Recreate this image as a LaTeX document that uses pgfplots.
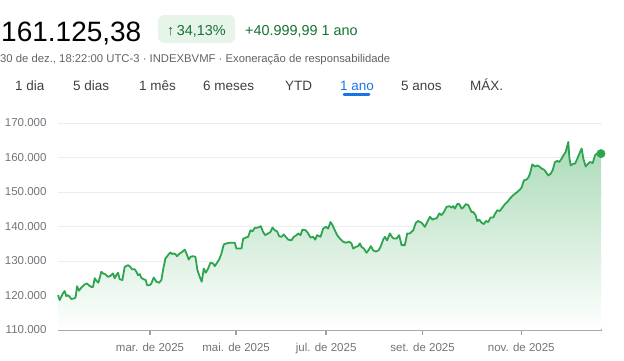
\documentclass[border=0pt]{standalone}
\usepackage{pgfplots}
\pgfplotsset{compat=1.18}
\usepackage{pgfplotstable}
\usepackage{fontspec}
\setmainfont{Liberation Sans}
\definecolor{gline}{HTML}{2DA44E}
\definecolor{gtext}{HTML}{137333}
\definecolor{gbadge}{HTML}{E6F4EA}
\definecolor{ttext}{HTML}{3C4043}
\definecolor{stext}{HTML}{5F6368}
\definecolor{ltext}{HTML}{70757A}
\definecolor{gblue}{HTML}{1A73E8}
\definecolor{gridc}{HTML}{ECEDEF}
\definecolor{axc}{HTML}{9AA0A6}
\pgfplotstableread{
x y
175 120100
180 118700
190 120600
195 121300
200 119800
205 120100
210 119600
215 119000
225 119200
228 119600
232 122700
238 121400
245 122300
255 123200
262 123500
268 122900
275 122500
280 122500
285 125000
290 124300
296 123700
305 126900
310 126400
318 126100
325 125400
332 125700
340 126400
345 125000
350 125900
355 126600
360 124700
368 124500
375 128300
385 128800
392 128300
397 127600
405 127600
410 126900
415 125900
420 126200
425 125100
432 124700
438 124500
442 123000
450 123000
455 123500
462 125200
470 124000
478 123700
485 124500
490 127400
497 130700
505 131700
512 132500
518 132000
522 132200
527 132000
532 131400
540 132200
548 132700
555 133300
560 132200
567 130400
572 131200
580 131400
587 131200
593 127400
600 125400
606 124000
612 127800
618 126600
625 127800
632 129500
640 129300
645 128500
652 129500
658 130400
665 132200
672 134800
680 135100
690 135300
705 135300
710 133600
725 133600
730 136400
738 136800
745 137000
752 138900
758 138600
765 139600
775 139700
783 140100
790 138400
796 137500
805 138000
812 138400
818 139700
825 138900
832 138600
838 137200
845 137000
852 137700
858 137000
865 136200
875 136000
882 137000
890 137500
895 138000
902 137500
908 139100
918 138900
925 138000
932 136800
940 137000
946 136200
952 137500
958 137200
962 137000
970 139400
978 139900
985 139400
992 141300
998 140400
1005 138900
1012 137500
1020 136500
1030 135600
1038 135300
1048 135600
1055 135100
1060 133600
1068 134100
1075 134300
1080 135100
1085 134100
1092 133600
1100 132400
1107 133300
1113 134300
1120 133100
1128 132700
1136 133100
1142 134100
1150 136200
1155 137000
1162 136000
1170 138000
1176 137000
1182 136500
1190 136500
1198 137500
1205 134600
1215 134600
1222 138000
1230 138000
1240 138900
1248 141100
1255 141600
1265 141100
1275 139900
1282 141300
1290 142800
1298 142000
1305 142300
1310 142300
1318 143800
1325 143300
1332 144200
1340 145700
1348 145900
1355 145500
1360 145900
1365 145200
1372 146500
1378 146500
1385 145200
1390 145500
1398 146500
1405 146200
1410 145200
1415 144200
1420 144200
1427 143300
1432 141600
1438 142000
1445 141100
1452 140700
1458 141600
1465 141300
1472 142600
1480 142600
1485 143600
1492 144700
1500 144500
1505 145200
1515 146500
1522 147100
1530 148100
1540 149100
1545 149500
1552 150000
1560 150700
1565 151300
1572 153400
1580 153600
1585 154200
1590 155300
1597 158000
1605 157400
1612 157700
1618 157400
1625 156800
1632 156500
1638 155800
1645 154800
1652 155300
1658 156300
1665 158700
1672 159000
1678 158700
1685 159700
1690 160600
1697 161600
1705 164500
1708 160100
1712 157700
1720 158200
1725 158200
1730 159200
1738 161100
1745 162600
1750 159700
1757 157400
1762 158000
1770 158700
1778 158400
1785 160600
1790 161100
1797 161600
1803 161125
}\ibov
\begin{document}
\begin{tikzpicture}
\useasboundingbox (0pt,0pt) rectangle (624pt,360pt);
% header
\node[anchor=base west, inner sep=0pt, text=black] at (1pt,319pt) {\fontsize{28}{30}\selectfont 161.125,38};
\fill[gbadge, rounded corners=6pt] (158pt,317pt) rectangle (235pt,345pt);
\node[anchor=base west, inner sep=0pt, text=gtext] at (167pt,325pt) {\fontsize{14.4}{16}\selectfont ↑\,34,13\%};
\node[anchor=base west, inner sep=0pt, text=gtext] at (245pt,325pt) {\fontsize{14.4}{16}\selectfont +40.999,99 1 ano};
\node[anchor=base west, inner sep=0pt, text=stext] at (0pt,298pt) {\fontsize{11.3}{13}\selectfont 30 de dez., 18:22:00 UTC-3 · INDEXBVMF · Exoneração de responsabilidade};
% tabs
\begin{scope}[every node/.style={anchor=base west, inner sep=0pt, text=ttext, font=\fontsize{13.5}{15}\selectfont}]
\node at (15pt,270pt) {1 dia};
\node at (73pt,270pt) {5 dias};
\node at (139pt,270pt) {1 mês};
\node at (203pt,270pt) {6 meses};
\node at (285pt,270pt) {YTD};
\node[text=gblue] at (340pt,270pt) {1 ano};
\node at (401pt,270pt) {5 anos};
\node at (470pt,270pt) {MÁX.};
\end{scope}
\draw[gblue, line width=3pt, line cap=round] (344pt,265.5pt) -- (369pt,265.5pt);
\begin{axis}[
  at={(58pt,30pt)}, anchor=south west,
  scale only axis, width=544pt, height=207pt,
  xmin=175, xmax=1806, ymin=110000, ymax=170000,
  axis lines*=left,
  y axis line style={draw=none},
  x axis line style={draw=axc, line width=1.4pt},
  scaled y ticks=false,
  ytick={110000,120000,130000,140000,150000,160000,170000},
  yticklabels={110.000,120.000,130.000,140.000,150.000,160.000,170.000},
  xtick={451,709,979,1268,1564},
  xticklabels={mar. de 2025,mai. de 2025,jul. de 2025,set. de 2025,nov. de 2025},
  ytick style={draw=none},
  xtick style={draw=axc, line width=1.4pt},
  tick align=outside, major tick length=5pt,
  ymajorgrids, grid style={draw=gridc, line width=1pt},
  tick label style={text=ltext, font=\fontsize{11.5}{13}\selectfont},
  yticklabel style={anchor=east, xshift=-3pt},
  xticklabel style={anchor=north, yshift=-5pt},
  clip=false,
]
\addplot[draw=none, top color=gline!40!white, bottom color=white] table[x=x,y=y] {\ibov} -- (axis cs:1803,110000) -- (axis cs:175,110000) -- cycle;
\addplot[gline, line width=1.8pt, line join=round, no marks] table[x=x,y=y] {\ibov};
\addplot[only marks, mark=*, mark size=4.2pt, gline] coordinates {(1803,161125)};
\end{axis}
\end{tikzpicture}
\end{document}
